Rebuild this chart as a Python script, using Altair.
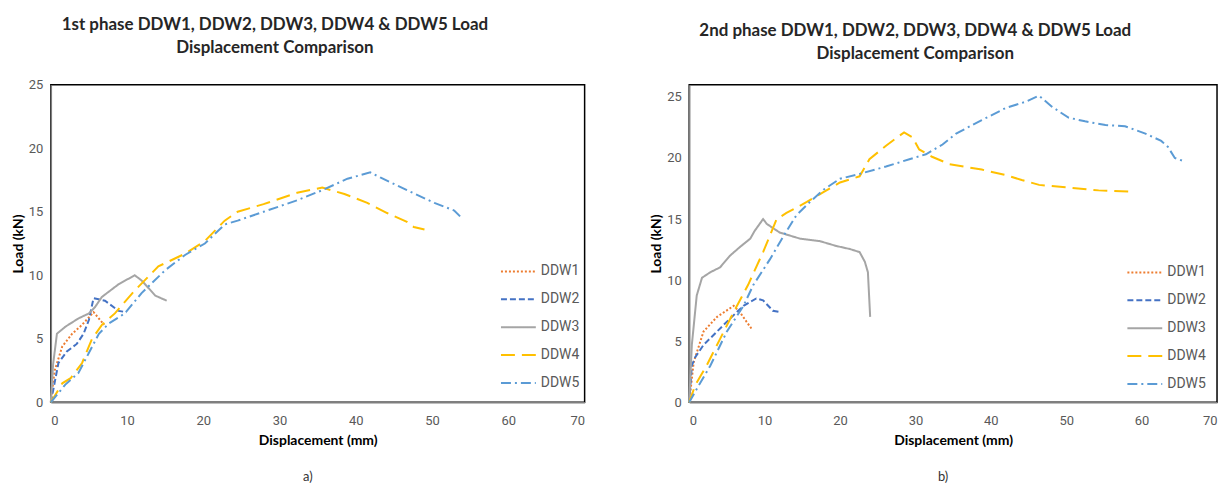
import altair as alt
import pandas as pd

SERIES = ["DDW1", "DDW2", "DDW3", "DDW4", "DDW5"]
COLORS = ["#ED7D31", "#4472C4", "#A5A5A5", "#FFC000", "#5B9BD5"]
DASHES = [[2, 2], [6, 3], [1, 0], [14, 7], [10, 4, 2, 4]]

# ---- Phase 1 (a) ----
p1_ddw1_x = [0, 0.5, 1.5, 2.8, 4.1, 5.6, 6.3, 7.0]
p1_ddw1_y = [0, 2.5, 4.4, 5.4, 6.1, 7.1, 6.6, 6.1]
p1_ddw2_x = [0, 1.0, 2.1, 3.4, 4.3, 5.0, 5.6, 7.1, 8.9, 9.9]
p1_ddw2_y = [0, 3.1, 4.0, 4.6, 5.4, 6.5, 8.2, 8.0, 7.2, 7.1]
p1_ddw3_x = [0, 0.3, 0.8, 1.9, 3.6, 5.0, 5.8, 6.7, 8.9, 11.0, 11.9, 12.8, 13.7, 15.2]
p1_ddw3_y = [0, 3.0, 5.4, 5.95, 6.6, 7.0, 7.5, 8.3, 9.3, 10.0, 9.6, 9.0, 8.4, 8.0]
p1_ddw4_x = [0, 1.5, 2.6, 4.1, 5.4, 6.7, 8.4, 11.0, 14.1, 17.6, 20.2, 22.8, 24.5, 27.9,
             32.3, 35.6, 38.5, 41.5, 44.1, 46.7, 47.6, 49.0]
p1_ddw4_y = [0, 1.5, 1.9, 3.1, 5.0, 6.1, 7.0, 8.8, 10.7, 11.7, 12.7, 14.3, 15.0, 15.6,
             16.5, 16.9, 16.4, 15.7, 14.9, 14.2, 13.8, 13.6]
p1_ddw5_x = [0, 1.9, 3.6, 5.0, 6.3, 7.6, 9.7, 11.9, 15.0, 17.6, 20.2, 22.8, 24.5, 27.9,
             32.3, 35.6, 38.9, 41.9, 43.2, 46.7, 50.3, 52.9, 53.9]
p1_ddw5_y = [0, 1.4, 2.3, 3.9, 5.4, 6.2, 7.0, 8.6, 10.4, 11.6, 12.5, 14.0, 14.3, 15.0,
             15.9, 16.7, 17.6, 18.1, 17.7, 16.7, 15.7, 15.1, 14.5]

# ---- Phase 2 (b) ----
p2_ddw1_x = [0, 0.6, 1.9, 3.7, 5.9, 6.7, 7.6, 8.3]
p2_ddw1_y = [0, 3.3, 5.8, 7.0, 7.9, 7.4, 6.6, 6.0]
p2_ddw2_x = [0, 0.35, 0.8, 1.9, 3.7, 5.4, 7.2, 8.9, 9.8, 11.1, 12.0]
p2_ddw2_y = [0, 3.0, 3.7, 4.7, 5.8, 6.85, 7.9, 8.5, 8.35, 7.5, 7.4]
p2_ddw3_x = [0, 0.35, 1.0, 1.7, 2.8, 4.1, 5.4, 6.7, 8.1, 8.7, 9.8, 10.3, 12.0, 14.7,
             17.3, 19.5, 21.3, 22.6, 23.3, 23.7, 24.0]
p2_ddw3_y = [0, 4.7, 8.75, 10.2, 10.65, 11.05, 12.0, 12.7, 13.4, 14.05, 15.0, 14.6, 13.9,
             13.4, 13.2, 12.8, 12.55, 12.3, 11.5, 10.65, 7.0]
p2_ddw4_x = [0, 0.8, 2.3, 4.1, 5.9, 7.8, 9.8, 11.6, 12.9, 15.6, 17.8, 20.0, 22.6, 23.9,
             26.1, 28.5, 29.6, 30.5, 32.2, 34.5, 38.8, 42.0, 44.1, 46.4, 49.9, 54.3, 58.3]
p2_ddw4_y = [0, 1.4, 3.0, 5.2, 7.4, 9.6, 12.3, 15.0, 15.5, 16.4, 17.2, 18.0, 18.5, 19.9,
             21.0, 22.1, 21.7, 20.7, 20.1, 19.5, 19.05, 18.6, 18.2, 17.8, 17.6, 17.35, 17.25]
p2_ddw5_x = [0, 1.0, 2.8, 5.0, 7.2, 8.5, 10.7, 12.5, 14.2, 16.0, 17.8, 20.0, 22.6, 26.1,
             29.2, 31.4, 33.6, 35.4, 38.8, 42.0, 44.6, 46.4, 48.1, 50.3, 52.5, 55.2, 57.8,
             60.5, 62.6, 63.5, 64.4, 65.8]
p2_ddw5_y = [0, 1.1, 3.0, 5.8, 7.9, 9.6, 11.7, 13.6, 15.3, 16.4, 17.4, 18.3, 18.7, 19.3,
             19.9, 20.3, 21.1, 22.0, 23.1, 24.1, 24.6, 25.1, 24.2, 23.3, 23.0, 22.7, 22.6,
             22.0, 21.4, 20.9, 20.0, 19.7]

phase1 = [(p1_ddw1_x, p1_ddw1_y), (p1_ddw2_x, p1_ddw2_y), (p1_ddw3_x, p1_ddw3_y),
          (p1_ddw4_x, p1_ddw4_y), (p1_ddw5_x, p1_ddw5_y)]
phase2 = [(p2_ddw1_x, p2_ddw1_y), (p2_ddw2_x, p2_ddw2_y), (p2_ddw3_x, p2_ddw3_y),
          (p2_ddw4_x, p2_ddw4_y), (p2_ddw5_x, p2_ddw5_y)]

FONT = "Lato"
NARROW = "Liberation Sans Narrow, Roboto, Lato"
GRAY = "#595959"


def to_frame(phase):
    rows = []
    for name, (xs, ys) in zip(SERIES, phase):
        for i, (x, y) in enumerate(zip(xs, ys)):
            rows.append({"series": name, "disp": x, "load": y, "idx": i})
    return pd.DataFrame(rows)


def panel(phase, title, ymax, tag, width, height, lx, ly, tdx):
    df = to_frame(phase)
    lines = alt.Chart(df).mark_line(strokeWidth=2).encode(
        x=alt.X("disp:Q", scale=alt.Scale(domain=[0, 70], nice=False),
                axis=alt.Axis(values=list(range(0, 71, 10)), title="Displacement (mm)")),
        y=alt.Y("load:Q", scale=alt.Scale(domain=[0, ymax], nice=False),
                axis=alt.Axis(values=list(range(0, 26, 5)), title="Load (kN)")),
        color=alt.Color("series:N", scale=alt.Scale(domain=SERIES, range=COLORS),
                        legend=alt.Legend(title=None, orient="none", legendX=lx, legendY=ly,
                                          symbolType="stroke", symbolSize=1225,
                                          symbolStrokeWidth=2, labelFontSize=14,
                                          labelColor=GRAY, labelFont=NARROW,
                                          rowPadding=2, labelOffset=4)),
        strokeDash=alt.StrokeDash("series:N", scale=alt.Scale(domain=SERIES, range=DASHES)),
        order="idx:Q",
    )
    tag_df = pd.DataFrame({"t": [tag]})
    label = alt.Chart(tag_df).mark_text(font=FONT, fontSize=13, color="#333333").encode(
        text="t:N", x=alt.value(width / 2 - 10), y=alt.value(height + 75))
    return alt.layer(lines, label).properties(
        width=width, height=height,
        title=alt.TitleParams(title, fontSize=17, font=FONT, fontWeight="bold",
                              color="#262626", lineHeight=23, offset=22, dx=tdx,
                              anchor="middle"),
    )


left = panel(phase1, ["1st phase DDW1, DDW2, DDW3, DDW4 & DDW5 Load", "Displacement Comparison"],
             25, "a)", 536, 319, 451, 169, -43)
right = panel(phase2, ["2nd phase DDW1, DDW2, DDW3, DDW4 & DDW5 Load", "Displacement Comparison"],
              26, "b)", 530, 319, 439, 170, -38)

chart = alt.hconcat(left, right, spacing=63).resolve_legend(
    color="independent", strokeDash="independent"
).resolve_scale(
    color="independent", strokeDash="independent"
).properties(
    padding={"left": 2, "top": 6, "right": 5, "bottom": 5}
).configure_view(
    stroke="#000000", strokeWidth=1.5
).configure_axis(
    grid=False, ticks=False, domainColor="#7f7f7f", domainWidth=1.5,
    labelFont=NARROW, labelFontSize=13, labelColor=GRAY,
    titleFont=FONT, titleFontSize=14, titleColor="#000000", titleFontWeight="bold",
).configure_axisX(labelPadding=12, titlePadding=6).configure_axisY(labelPadding=8, titlePadding=3)

chart.save("out.html", embed_options={"renderer": "svg", "actions": False})
